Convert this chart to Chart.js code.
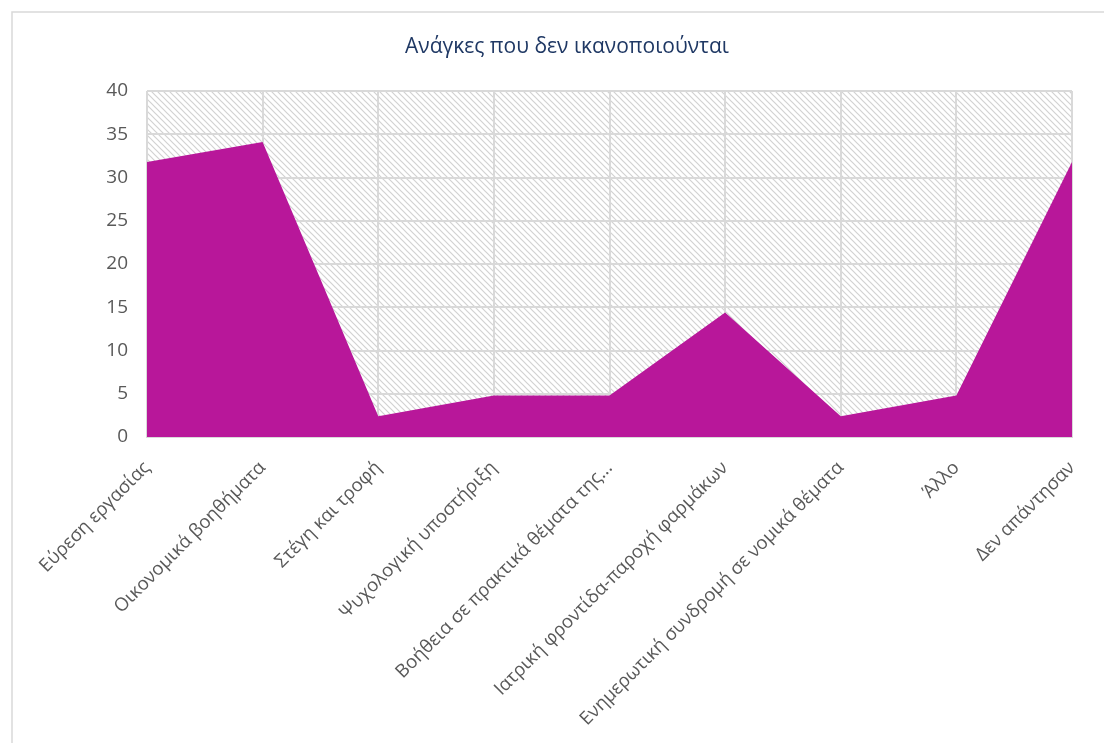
<!DOCTYPE html>
<html lang="el">
<head>
<meta charset="utf-8">
<title>Ανάγκες που δεν ικανοποιούνται</title>
<script src="https://cdn.jsdelivr.net/npm/chart.js@4.4.1/dist/chart.umd.min.js"></script>
<style>
  html, body { margin: 0; padding: 0; background: #fff; }
  #wrap { position: relative; width: 1104px; height: 743px; }
</style>
</head>
<body>
<div id="wrap"><canvas id="needsChart"></canvas></div>
<script>
// categories and the share of answers for each one
const needLabels = [
    'Εύρεση εργασίας',
    'Οικονομικά βοηθήματα',
    'Στέγη και τροφή',
    'Ψυχολογική υποστήριξη',
    'Βοήθεια σε πρακτικά θέματα της...',
    'Ιατρική φροντίδα-παροχή φαρμάκων',
    'Ενημερωτική συνδρομή σε νομικά θέματα',
    'Άλλο',
    'Δεν απάντησαν'
];
const needValues = [31.8, 34.1, 2.4, 4.8, 4.8, 14.4, 2.4, 4.8, 31.8];
const yTicks = [0, 5, 10, 15, 20, 25, 30, 35, 40];

const chartTitle = 'Ανάγκες που δεν ικανοποιούνται';
const fontFamily = "'Open Sans', 'Noto Sans', sans-serif";

function makeHatch() {
    let size = 6;
    let tile = document.createElement('canvas');
    tile.width = size;
    tile.height = size;
    let c = tile.getContext('2d');
    c.fillStyle = '#ffffff';
    c.fillRect(0, 0, size, size);
    c.strokeStyle = '#d2d2d2';
    c.lineWidth = 1.2;
    c.beginPath();
    c.moveTo(-1, -1); c.lineTo(size + 1, size + 1);
    c.moveTo(-1, size - 1); c.lineTo(1, size + 1);
    c.moveTo(size - 1, -1); c.lineTo(size + 1, 1);
    c.stroke();
    return c.createPattern(tile, 'repeat');
}

// hatched plot background, outer frame and the title
const framePlugin = {
    id: 'frame',
    beforeDraw: function(chart) {
        let ctx = chart.ctx;
        let area = chart.chartArea;
        ctx.save();
        ctx.fillStyle = makeHatch();
        ctx.fillRect(area.left, area.top, area.right - area.left, area.bottom - area.top);
        ctx.strokeStyle = '#d9d9d9';
        ctx.lineWidth = 1.5;
        ctx.strokeRect(12, 12, chart.width + 20, chart.height + 20);
        ctx.fillStyle = '#1f3864';
        ctx.font = "21px " + fontFamily;
        ctx.textAlign = 'center';
        ctx.textBaseline = 'middle';
        ctx.fillText(chartTitle, 567, 47);
        ctx.restore();
    }
};

let ctx = document.getElementById('needsChart').getContext('2d');
new Chart(ctx, {
    type: 'line',
    data: {
        labels: needLabels,
        datasets: [{
            data: needValues,
            backgroundColor: '#b8179a',
            borderWidth: 0,
            pointRadius: 0,
            fill: 'origin',
            tension: 0
        }]
    },
    options: {
        responsive: true,
        maintainAspectRatio: false,
        animation: false,
        layout: { padding: { top: 91, left: 62, right: 32, bottom: 0 } },
        plugins: {
            legend: { display: false },
            title: { display: false },
            tooltip: { enabled: false }
        },
        scales: {
            x: {
                offset: false,
                grid: { color: '#d9d9d9', lineWidth: 2, drawTicks: false },
                border: { color: '#d9d9d9', width: 2 },
                ticks: {
                    autoSkip: false,
                    minRotation: 45,
                    maxRotation: 45,
                    padding: 20,
                    color: '#595959',
                    font: { family: fontFamily, size: 18.5 }
                },
                afterFit: function(scale) {
                    scale.height = 306;
                    scale.paddingLeft = 0;
                    scale.paddingRight = 0;
                }
            },
            y: {
                min: 0,
                max: 40,
                afterBuildTicks: function(scale) {
                    scale.ticks = yTicks.map(v => ({ value: v }));
                },
                grid: { color: '#d9d9d9', lineWidth: 2, drawTicks: false },
                border: { display: false },
                ticks: {
                    padding: 19,
                    color: '#595959',
                    font: { family: fontFamily, size: 19 }
                },
                afterFit: function(scale) {
                    scale.width = 85;
                }
            }
        }
    },
    plugins: [framePlugin]
});
</script>
</body>
</html>
